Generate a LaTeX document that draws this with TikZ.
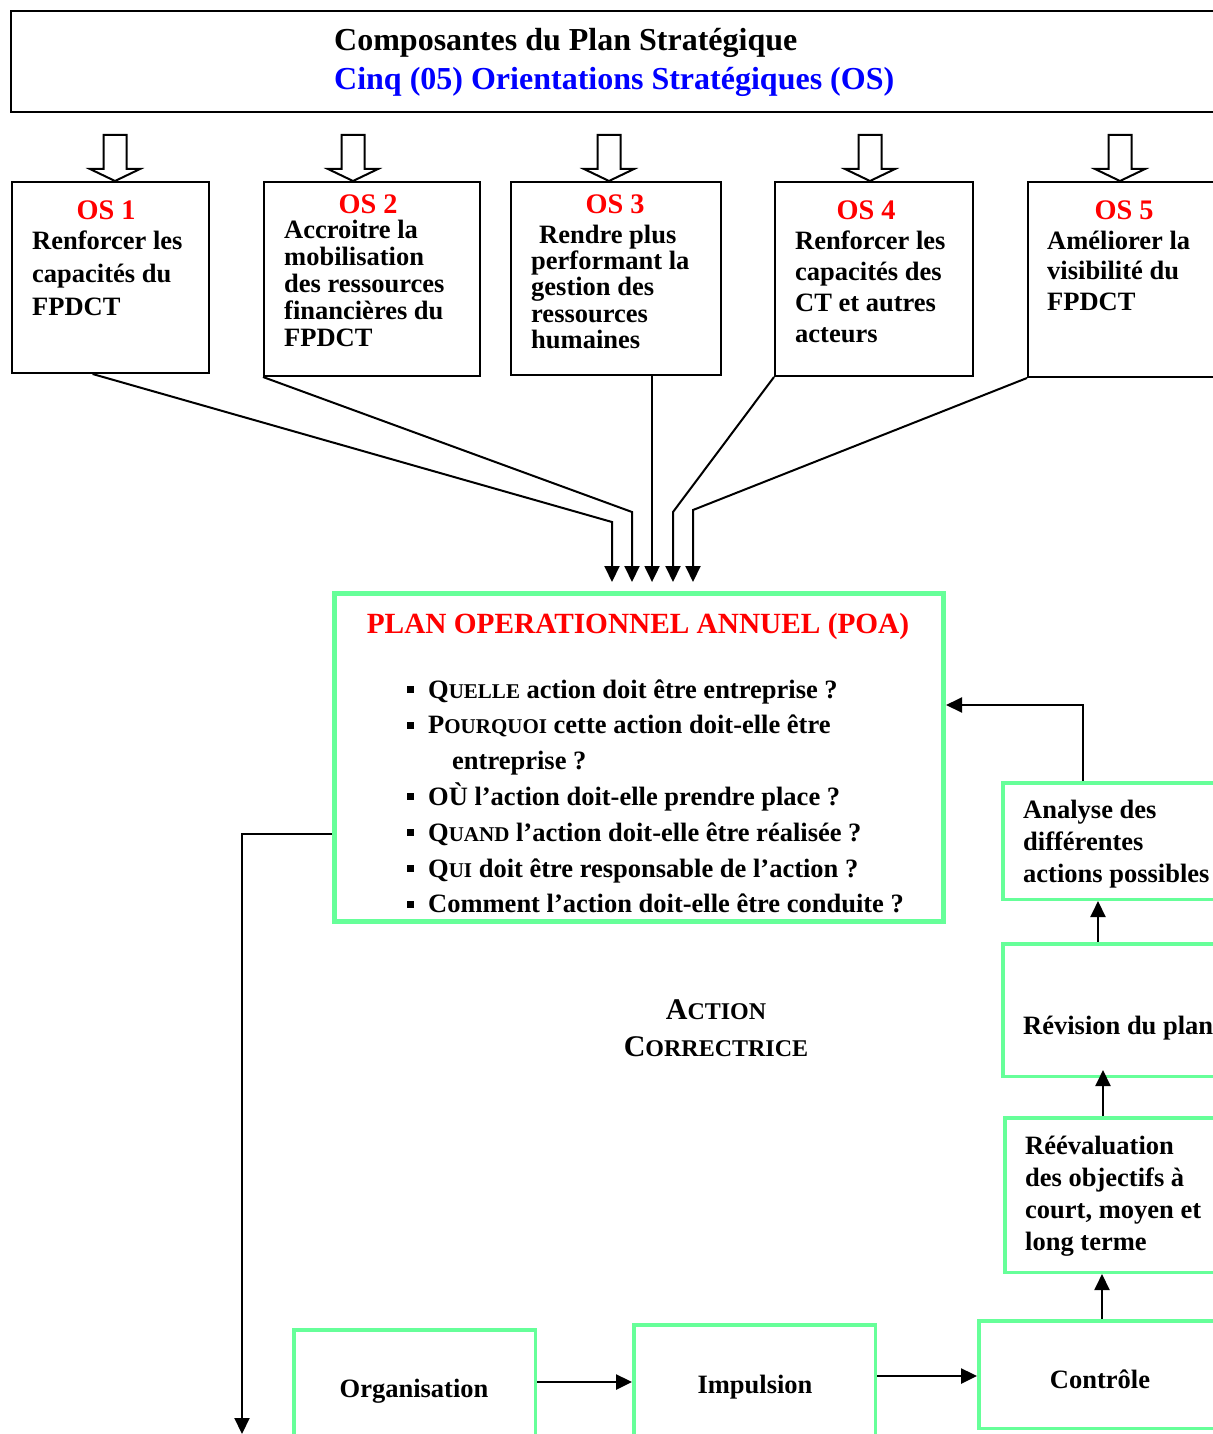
\documentclass[tikz,border=0pt]{standalone}
\usepackage{fontspec}
\setmainfont{Liberation Serif}
\usetikzlibrary{arrows.meta,calc}
\definecolor{mint}{RGB}{102,255,153}
\definecolor{osred}{RGB}{255,0,0}
\definecolor{osblue}{RGB}{0,0,255}
% stacked lines, baseline of the node = baseline of the first line
\newcommand{\stk}[1]{\begin{tabular}[t]{@{}l@{}}#1\end{tabular}}
% faked small capitals
\newcommand{\sck}[2]{#1{\fontsize{21}{21}\selectfont #2}}
\newcommand{\sckbig}[2]{#1{\fontsize{24}{24}\selectfont #2}}
% square bullet
\newcommand{\sqb}{\rule[5pt]{7pt}{7pt}}
\begin{document}
\begin{tikzpicture}[x=1pt,y=-1pt,
  blackbox/.style={draw=black,line width=2pt,inner sep=0pt,anchor=north west},
  greenbox/.style={draw=mint,line width=3.5pt,inner sep=0pt,anchor=north west},
  txt/.style={anchor=base west,inner sep=0pt,font=\bfseries\fontsize{26.5}{#1}\selectfont},
  txt/.default=33,
  ctxt/.style={anchor=base,inner sep=0pt,font=\bfseries\fontsize{26.5}{#1}\selectfont},
  ctxt/.default=33,
  oslab/.style={anchor=base,inner sep=0pt,text=osred,font=\bfseries\fontsize{28.3}{30}\selectfont},
  link/.style={line width=2pt,-{Triangle[length=16pt,width=15pt]}},
  hollow/.pic={\draw[line width=2pt,line join=miter,fill=white]
     (-11.5,0) -- (-11.5,34) -- (-25,34) -- (0,46) -- (25,34) -- (11.5,34) -- (11.5,0) -- cycle;}
]
\useasboundingbox (0,0) rectangle (1212,1434);

% header
\node[blackbox,minimum width=1260pt,minimum height=101pt] (head) at (10,10) {};
\node[anchor=base west,inner sep=0pt,font=\bfseries\fontsize{32}{39}\selectfont] (headtxt) at (334,51)
  {\stk{Composantes du Plan Stratégique\\ \textcolor{osblue}{Cinq (05) Orientations Stratégiques (OS)}}};

% hollow arrows above the OS boxes
\pic at (115,135) {hollow};
\pic at (353,135) {hollow};
\pic at (609,135) {hollow};
\pic at (870,135) {hollow};
\pic at (1120,135) {hollow};

% strategic orientation boxes
\node[blackbox,minimum width=197pt,minimum height=191pt] (os1) at (11,181) {};
\node[blackbox,minimum width=216pt,minimum height=194pt] (os2) at (263,181) {};
\node[blackbox,minimum width=210pt,minimum height=193pt] (os3) at (510,181) {};
\node[blackbox,minimum width=198pt,minimum height=194pt] (os4) at (774,181) {};
\node[blackbox,minimum width=260pt,minimum height=195pt] (os5) at (1027,181) {};

\node[oslab] (l1) at (106,219) {OS 1};
\node[oslab] (l2) at (368,213) {OS 2};
\node[oslab] (l3) at (615,214) {OS 3};
\node[oslab] (l4) at (866,219) {OS 4};
\node[oslab] (l5) at (1124,219) {OS 5};

\node[txt=33] (t1) at (32,249) {\stk{Renforcer les\\capacités du\\FPDCT}};
\node[txt=27] (t2) at (284,238) {\stk{Accroitre la\\mobilisation\\des ressources\\financières du\\FPDCT}};
\node[txt=26.3] (t3) at (531,243) {\stk{\hspace{8pt}Rendre plus\\performant la\\gestion des\\ressources\\humaines}};
\node[txt=31] (t4) at (795,249) {\stk{Renforcer les\\capacités des\\CT et autres\\acteurs}};
\node[txt=30.5] (t5) at (1047,249) {\stk{Améliorer la\\visibilité du\\FPDCT}};

% annual operational plan
\node[draw=mint,line width=5pt,inner sep=0pt,anchor=north west,minimum width=609pt,minimum height=328pt] (poa) at (332,591) {};
\node[anchor=base,inner sep=0pt,text=osred,font=\bfseries\fontsize{29.3}{30}\selectfont] (poat) at (638,633)
  {PLAN OPERATIONNEL ANNUEL (POA)};
\node[txt=35.8] (poaq) at (407,698) {\begin{tabular}[t]{@{}l@{\hspace{14pt}}l@{}}
  \sqb & \sck{Q}{UELLE} action doit être entreprise ?\\
  \sqb & \sck{P}{OURQUOI} cette action doit-elle être\\
       & \hspace{24pt}entreprise ?\\
  \sqb & OÙ l’action doit-elle prendre place ?\\
  \sqb & \sck{Q}{UAND} l’action doit-elle être réalisée ?\\
  \sqb & \sck{Q}{UI} doit être responsable de l’action ?\\
  \sqb & Comment l’action doit-elle être conduite ?
\end{tabular}};

% corrective loop
\node[greenbox,minimum width=260pt,minimum height=116.5pt] (an) at (1001,781) {};
\node[txt=32] (ant) at (1023,818) {\stk{Analyse des\\différentes\\actions possibles}};
\node[greenbox,minimum width=260pt,minimum height=132.5pt] (rev) at (1001,942) {};
\node[txt] (revt) at (1023,1034) {Révision du plan};
\node[greenbox,minimum width=260pt,minimum height=154.5pt] (ree) at (1003,1116) {};
\node[txt=32] (reet) at (1025,1154) {\stk{Réévaluation\\des objectifs à\\court, moyen et\\long terme}};

\node[anchor=base,inner sep=0pt,font=\bfseries\fontsize{30}{37}\selectfont] (act) at (716,1019)
  {\begin{tabular}[t]{@{}c@{}}\sckbig{A}{CTION}\\\sckbig{C}{ORRECTRICE}\end{tabular}};

% management cycle
\node[greenbox,minimum width=241.5pt,minimum height=160pt] (org) at (292,1328) {};
\node[ctxt] (orgt) at (414,1397) {Organisation};
\node[greenbox,minimum width=241.5pt,minimum height=160pt] (imp) at (632,1323) {};
\node[ctxt] (impt) at (755,1393) {Impulsion};
\node[greenbox,minimum width=270pt,minimum height=107.5pt] (ctl) at (977,1319) {};
\node[ctxt] (ctlt) at (1100,1388) {Contrôle};

% connectors from the orientations to the plan
\coordinate (tip) at (0,582);
\coordinate (b1) at (612,522);
\coordinate (b2) at (632,512);
\coordinate (b4) at (673,512);
\coordinate (b5) at (693,510);
\draw[link] ($(os1.south west)!0.41!(os1.south east)$) -- (b1) -- (b1 |- tip);
\draw[link] (os2.south west) -- (b2) -- (b2 |- tip);
\draw[link] ($(os3.south west)!0.67!(os3.south east)$) coordinate (b3) -- (b3 |- tip);
\draw[link] (os4.south west) -- (b4) -- (b4 |- tip);
\draw[link] (os5.south west) -- (b5) -- (b5 |- tip);

% loop arrows
\coordinate (r1) at (1083,705);
\draw[link] (r1 |- an.north) -- (r1) -- (r1 -| poa.east);
\coordinate (r2) at (1098,0);
\draw[link] (r2 |- rev.north) -- (r2 |- an.south);
\coordinate (r3) at (1103,1070);
\draw[link] (r3 |- ree.north) -- (r3);
\coordinate (r4) at (1102,0);
\draw[link] (r4 |- ctl.north) -- (r4 |- ree.south);

\coordinate (h1) at (0,1382);
\draw[link,line width=2.5pt] (org.east |- h1) -- (imp.west |- h1);
\coordinate (h2) at (0,1376);
\draw[link,line width=2.5pt] (imp.east |- h2) -- (ctl.west |- h2);

% exit from the plan
\coordinate (lft) at (242,834);
\coordinate (bot) at (242,1434);
\draw[link] (poa.west |- lft) -- (lft) -- (bot);
\end{tikzpicture}
\end{document}
